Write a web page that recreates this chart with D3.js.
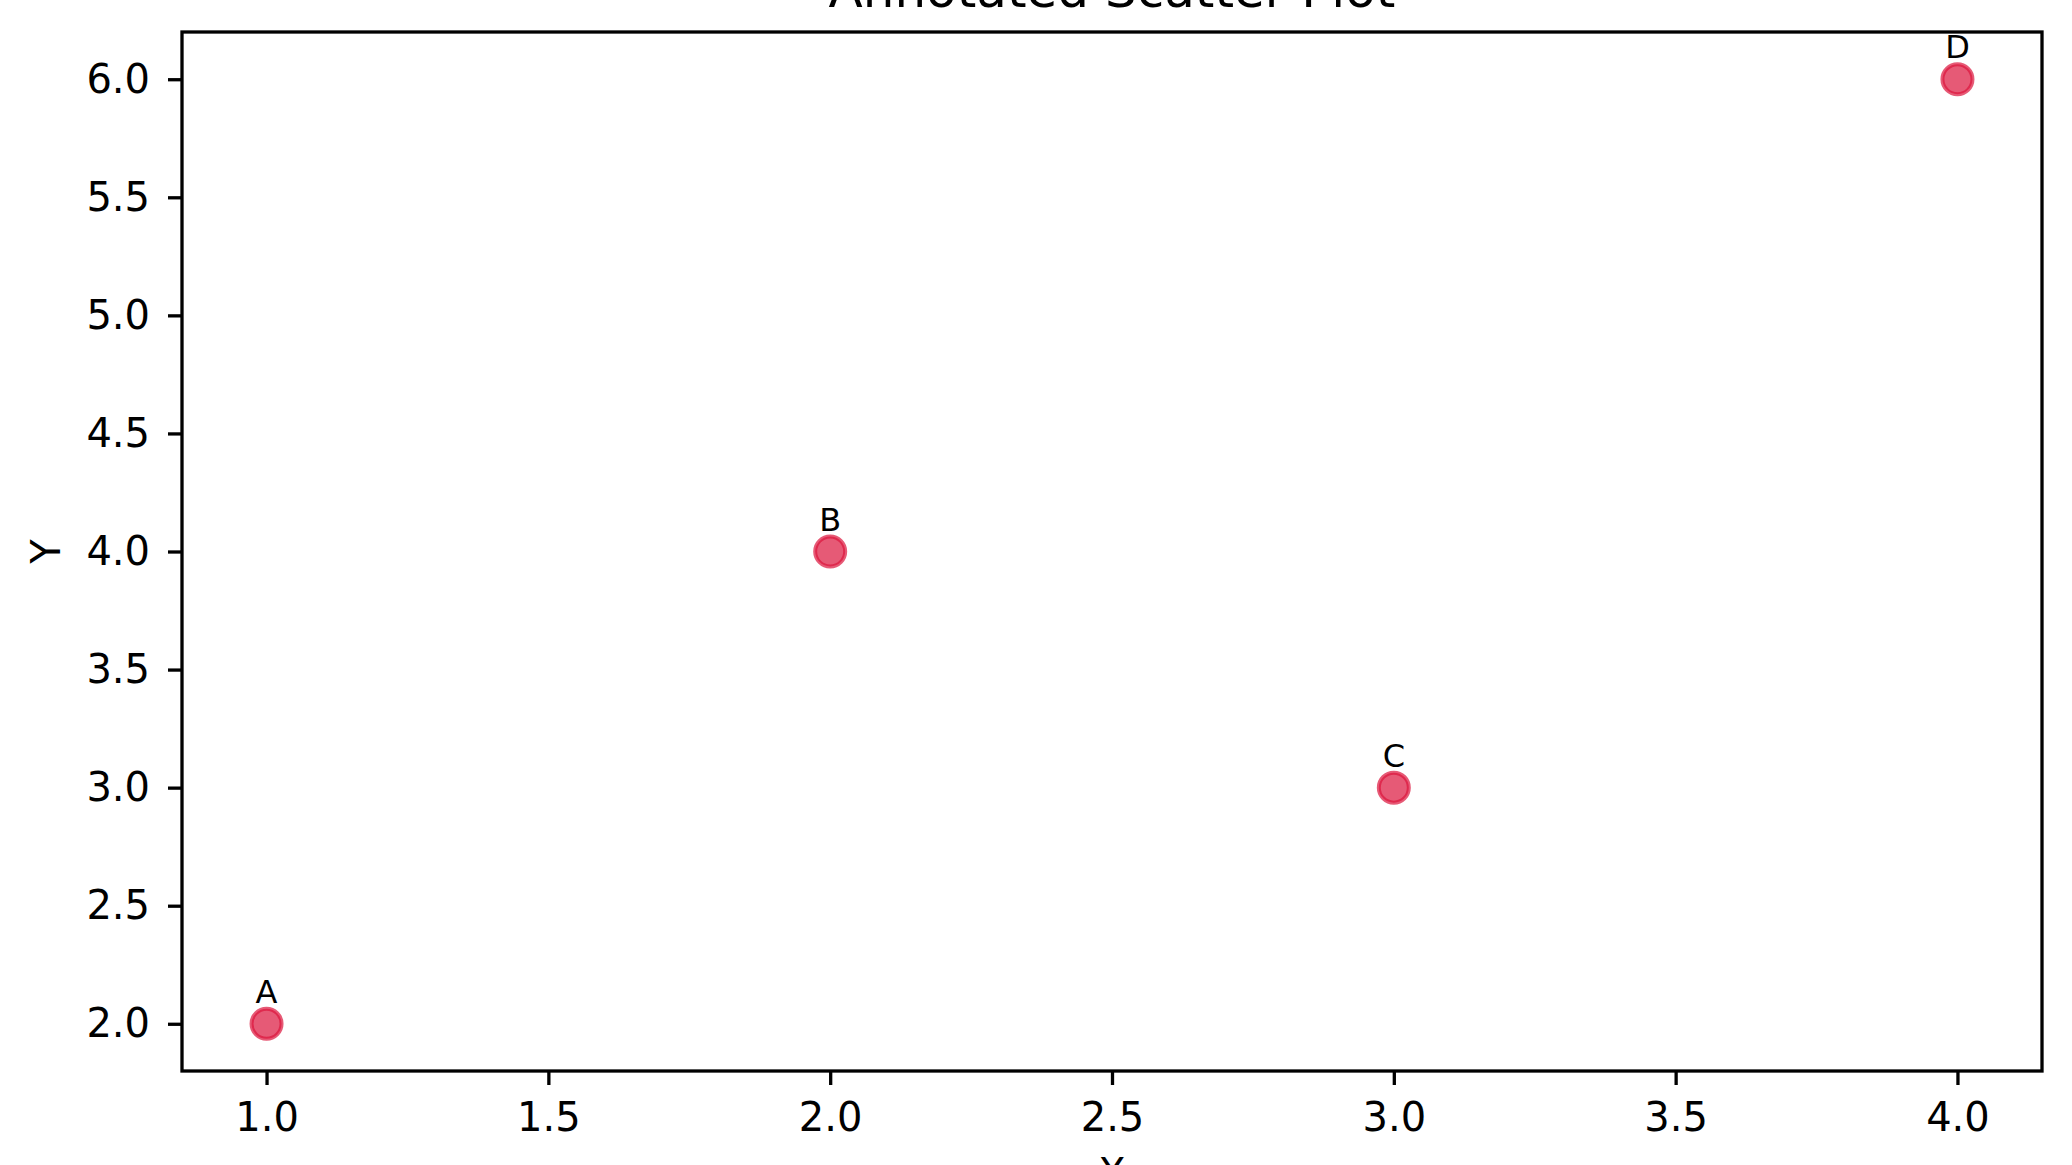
<!DOCTYPE html>
<html>
<head>
<meta charset="utf-8">
<script src="https://cdn.jsdelivr.net/npm/d3@7"></script>
<style>
  body { margin: 0; background: #fff; }
  svg { display: block; font-family: "DejaVu Sans", sans-serif; }
</style>
</head>
<body>
<div id="chart-area"></div>
<script>
/* Data */
const labels = ["A", "B", "C", "D"]
const xValues = [1, 2, 3, 4]
const yValues = [2, 4, 3, 6]
const xTicks = [1.0, 1.5, 2.0, 2.5, 3.0, 3.5, 4.0]
const yTicks = [2.0, 2.5, 3.0, 3.5, 4.0, 4.5, 5.0, 5.5, 6.0]

const points = labels.map((l, i) => ({ label: l, x: xValues[i], y: yValues[i] }))

/* Chart area */
const W = 2072, H = 1165
const MARGIN = { LEFT: 182, RIGHT: 30, TOP: 32, BOTTOM: 94 }
const WIDTH = W - MARGIN.LEFT - MARGIN.RIGHT
const HEIGHT = H - MARGIN.TOP - MARGIN.BOTTOM

const svg = d3.select("#chart-area").append("svg")
  .attr("width", W)
  .attr("height", H)

const g = svg.append("g")
  .attr("transform", `translate(${MARGIN.LEFT}, ${MARGIN.TOP})`)

// scales with matplotlib-like 5% padding
const pad = (ext) => { const d = (ext[1] - ext[0]) * 0.05; return [ext[0] - d, ext[1] + d] }
const x = d3.scaleLinear().domain(pad(d3.extent(xValues))).range([0, WIDTH])
const y = d3.scaleLinear().domain(pad(d3.extent(yValues))).range([HEIGHT, 0])

// axes
const xAxis = g.append("g")
  .attr("transform", `translate(0, ${HEIGHT})`)
  .call(d3.axisBottom(x).tickValues(xTicks).tickFormat(d3.format(".1f")).tickSize(14).tickPadding(18))
const yAxis = g.append("g")
  .call(d3.axisLeft(y).tickValues(yTicks).tickFormat(d3.format(".1f")).tickSize(14).tickPadding(18))

g.selectAll(".domain").remove()
g.selectAll(".tick line").attr("stroke", "#000").attr("stroke-width", 3.3)
g.selectAll(".tick text")
  .attr("fill", "#000")
  .style("font-size", "40px")
  .style("font-family", "'DejaVu Sans', sans-serif")

// frame
g.append("rect")
  .attr("width", WIDTH)
  .attr("height", HEIGHT)
  .attr("fill", "none")
  .attr("stroke", "#000")
  .attr("stroke-width", 3.3)

// points
g.selectAll("circle")
  .data(points)
  .enter().append("circle")
  .attr("cx", d => x(d.x))
  .attr("cy", d => y(d.y))
  .attr("r", 15)
  .attr("fill", "crimson")
  .attr("fill-opacity", 0.7)
  .attr("stroke", "crimson")
  .attr("stroke-opacity", 0.7)
  .attr("stroke-width", 4)

// annotations
g.selectAll(".note")
  .data(points)
  .enter().append("text")
  .attr("class", "note")
  .attr("x", d => x(d.x))
  .attr("y", d => y(d.y) - 21)
  .attr("text-anchor", "middle")
  .style("font-size", "32px")
  .attr("fill", "#000")
  .text(d => d.label)

// title and axis labels
svg.append("text")
  .attr("x", MARGIN.LEFT + WIDTH / 2)
  .attr("y", 7)
  .attr("text-anchor", "middle")
  .style("font-size", "50px")
  .text("Annotated Scatter Plot")

svg.append("text")
  .attr("x", MARGIN.LEFT + WIDTH / 2)
  .attr("y", 1187)
  .attr("text-anchor", "middle")
  .style("font-size", "40px")
  .text("X")

svg.append("text")
  .attr("transform", `translate(60, ${MARGIN.TOP + HEIGHT / 2}) rotate(-90)`)
  .attr("text-anchor", "middle")
  .style("font-size", "40px")
  .text("Y")
</script>
</body>
</html>
